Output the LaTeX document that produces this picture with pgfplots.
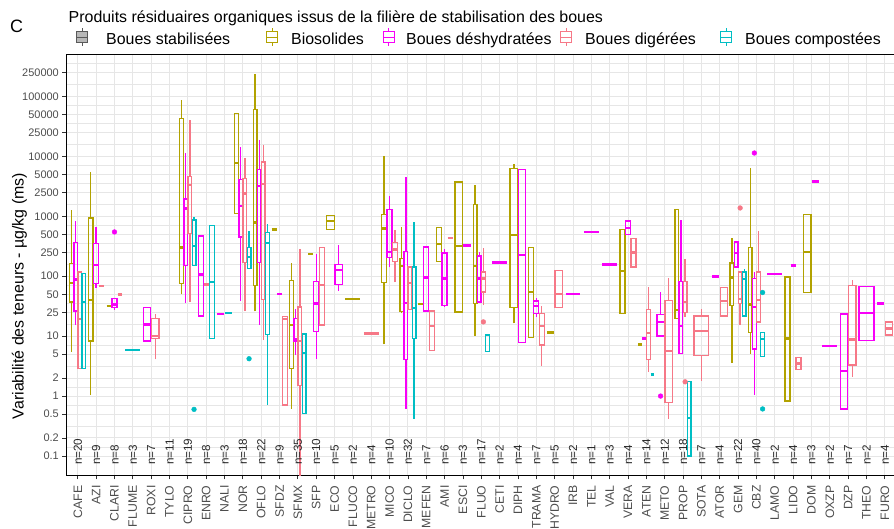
\documentclass[border=0pt]{standalone}
\usepackage{fontspec}
\setmainfont{Liberation Sans}
\usepackage{pgfplots}
\pgfplotsset{compat=1.18}
\definecolor{olv}{RGB}{178,162,0}
\definecolor{mag}{RGB}{248,0,248}
\definecolor{pnk}{RGB}{246,120,135}
\definecolor{cya}{RGB}{0,190,196}
\definecolor{gridc}{RGB}{230,230,230}
\definecolor{txtg}{RGB}{77,77,77}
% #1 colour, #2 category, #3 groups in category, #4 index, #5..#9 = lower whisker, Q1, median, Q3, upper whisker
\newcommand{\BX}[9]{%
  \pgfmathsetmacro\bxc{#2-0.45+0.9/#3*(#4+0.5)}%
  \pgfmathsetmacro\bxa{\bxc-0.405/#3}%
  \pgfmathsetmacro\bxb{\bxc+0.405/#3}%
  \edef\bxdo{%
    \noexpand\addplot[draw=#1, line width=1.3pt, mark=none, line join=miter, line cap=rect] coordinates {(\bxa,#6) (\bxb,#6) (\bxb,#8) (\bxa,#8) (\bxa,#6)};%
    \noexpand\addplot[draw=#1, line width=1.3pt, mark=none] coordinates {(\bxc,#5) (\bxc,#6)};%
    \noexpand\addplot[draw=#1, line width=1.3pt, mark=none] coordinates {(\bxc,#8) (\bxc,#9)};%
    \noexpand\addplot[draw=#1, line width=2.3pt, mark=none] coordinates {(\bxa,#7) (\bxb,#7)};%
  }\bxdo}
\newcommand{\FL}[5]{%
  \pgfmathsetmacro\bxc{#2-0.45+0.9/#3*(#4+0.5)}%
  \pgfmathsetmacro\bxa{\bxc-0.405/#3}%
  \pgfmathsetmacro\bxb{\bxc+0.405/#3}%
  \edef\bxdo{\noexpand\addplot[draw=#1, line width=2.6pt, mark=none] coordinates {(\bxa,#5) (\bxb,#5)};}\bxdo}
\newcommand{\NL}[2]{\node[rotate=90, anchor=west, inner sep=0pt, font=\fontsize{11.7}{12}\selectfont, text=black!85] at (axis cs:#1,0.0708) {n=#2};}
\begin{document}
\begin{tikzpicture}
\begin{axis}[
  at={(66.8bp,54bp)}, anchor=south west, scale only axis,
  width=829bp, height=421bp,
  xmin=-0.6, xmax=44.6, ymode=log, ymin=0.0482, ymax=510500,
  axis line style={black, line width=0.9pt},
  tick align=outside, tick pos=left, major tick length=4.5pt, minor tick length=0pt,
  tick style={black!80, line width=0.8pt},
  xtick={0,...,44},
  xticklabels={CAFE,AZI,CLARI,FLUME,ROXI,TYLO,CIPRO,ENRO,NALI,NOR,OFLO,SFDZ,SFMX,SFP,ECO,FLUCO,METRO,MICO,DICLO,MEFEN,AMI,ESCI,FLUO,CETI,DIPH,TRAMA,HYDRO,IRB,TEL,VAL,VERA,ATEN,METO,PROP,SOTA,ATOR,GEM,CBZ,LAMO,LIDO,DOM,OXZP,DZP,THEO,FURO},
  xticklabel style={rotate=90, anchor=east, font=\fontsize{12.3}{13}\selectfont, text=txtg},
  xticklabel shift=2.5pt,
  ytick={0.1,0.2,0.5,1,2,5,10,25,50,100,250,500,1000,2500,5000,10000,25000,50000,100000,250000},
  yticklabels={0.1,0.2,0.5,1,2,5,10,25,50,100,250,500,1000,2500,5000,10000,25000,50000,100000,250000},
  minor ytick={0.1414,0.3162,0.7071,1.414,3.162,7.071,15.81,35.36,70.71,158.1,353.6,707.1,1581,3536,7071,15811,35355,70711,158114,353553},
  yticklabel style={font=\fontsize{11}{12}\selectfont, text=txtg},
  xmajorgrids, ymajorgrids, yminorgrids,
  major grid style={gridc, line width=1pt},
  minor grid style={gridc, line width=0.55pt},
]
% CAFE
\BX{olv}{0}{4}{0}{5.5}{37}{77}{163}{1260}
\BX{mag}{0}{4}{1}{15.3}{26.4}{88}{364}{836}
\BX{pnk}{0}{4}{2}{2.9}{2.9}{19.2}{118}{118}
\BX{cya}{0}{4}{3}{2.9}{2.9}{37.4}{111}{111}
% AZI
\BX{olv}{1}{3}{0}{1.04}{8.3}{40}{938}{5480}
\BX{mag}{1}{3}{1}{64.7}{75.5}{153}{350}{664}
\FL{pnk}{1}{3}{2}{69}
% CLARI
\FL{olv}{2}{3}{0}{32}
\BX{mag}{2}{3}{1}{27.6}{29.7}{33.7}{42.4}{42.4}
\FL{pnk}{2}{3}{2}{49.5}
% FLUME
\FL{cya}{3}{1}{0}{5.9}
% ROXI
\BX{mag}{4}{2}{0}{8.3}{8.3}{15.6}{29.7}{29.7}
\BX{pnk}{4}{2}{1}{4.1}{9.1}{10.1}{19.7}{23}
% CIPRO
\BX{olv}{6}{4}{0}{50}{76}{300}{43000}{87000}
\BX{mag}{6}{4}{1}{36.4}{150}{1342}{1950}{11300}
\BX{pnk}{6}{4}{2}{37}{514}{3350}{4600}{39800}
\BX{cya}{6}{4}{3}{152}{152}{320}{868}{975}
% ENRO
\BX{mag}{7}{3}{0}{21.8}{21.8}{107}{470}{470}
\FL{pnk}{7}{3}{1}{72.6}
\BX{cya}{7}{3}{2}{9.1}{9.1}{80.5}{708}{708}
% NALI
\FL{mag}{8}{2}{0}{23.6}
\FL{cya}{8}{2}{1}{24.5}
% NOR
\BX{olv}{9}{4}{0}{1108}{1108}{7840}{51400}{51400}
\BX{mag}{9}{4}{1}{38.3}{453}{1468}{4085}{14300}
\BX{pnk}{9}{4}{2}{26.1}{169}{2387}{4240}{9380}
\BX{cya}{9}{4}{3}{134}{134}{210}{300}{562}
% OFLO
\BX{olv}{10}{4}{0}{26}{70.8}{784}{60700}{239000}
\BX{mag}{10}{4}{1}{15.6}{169}{3200}{5990}{18500}
\BX{pnk}{10}{4}{2}{8.6}{40.8}{3500}{8050}{15250}
\BX{cya}{10}{4}{3}{0.71}{10.7}{359}{534}{736}
% SFDZ
\FL{olv}{11}{3}{0}{607}
\FL{mag}{11}{3}{1}{50.8}
\BX{pnk}{11}{3}{2}{0.71}{0.71}{19.2}{21}{21}
% SFMX
\BX{olv}{12}{4}{0}{0.62}{2.9}{15.3}{84.7}{169}
\BX{mag}{12}{4}{1}{4.9}{8.3}{8.9}{19.7}{28.2}
\BX{pnk}{12}{4}{2}{0.03}{1.5}{8.4}{30.8}{282}
\BX{cya}{12}{4}{3}{0.51}{0.51}{5.3}{10.9}{10.9}
% SFP
\FL{olv}{13}{3}{0}{233}
\BX{mag}{13}{3}{1}{4.2}{12.1}{35}{82.5}{239}
\BX{pnk}{13}{3}{2}{15.3}{15.3}{70.8}{300}{300}
% ECO
\BX{olv}{14}{2}{0}{607}{607}{836}{1040}{1040}
\BX{mag}{14}{2}{1}{57.7}{73.6}{126}{156}{329}
% FLUCO, METRO
\FL{olv}{15}{1}{0}{41.4}
\FL{pnk}{16}{1}{0}{11.1}
% MICO
\BX{olv}{17}{3}{0}{7.3}{78.4}{623}{1080}{10000}
\BX{mag}{17}{3}{1}{140}{205}{254}{1308}{2154}
\BX{pnk}{17}{3}{2}{80}{178}{278}{364}{584}
% DICLO
\BX{olv}{18}{4}{0}{23.9}{26.1}{147}{197}{650}
\BX{mag}{18}{4}{1}{0.62}{4.1}{36}{258}{4450}
\BX{pnk}{18}{4}{2}{27.8}{27.8}{77.5}{143}{143}
\BX{cya}{18}{4}{3}{0.42}{9.1}{29.7}{143}{815}
% MEFEN
\FL{olv}{19}{3}{0}{34.6}
\BX{mag}{19}{3}{1}{26.4}{26.4}{95}{308}{308}
\BX{pnk}{19}{3}{2}{5.8}{5.8}{14.9}{26.4}{26.4}
% AMI
\BX{olv}{20}{3}{0}{178}{178}{341}{647}{647}
\BX{mag}{20}{3}{1}{30.8}{32.9}{91.5}{245}{282}
\FL{pnk}{20}{3}{2}{435}
% ESCI
\BX{olv}{21}{2}{0}{25.4}{25.4}{320}{3735}{3735}
\FL{mag}{21}{2}{1}{329}
% FLUO
\BX{olv}{22}{4}{0}{10.1}{35}{147}{1565}{3290}
\BX{mag}{22}{4}{1}{37.3}{37.3}{91.5}{218}{250}
\BX{pnk}{22}{4}{2}{32.9}{54.8}{91.5}{118}{297}
\BX{cya}{22}{4}{3}{5.5}{5.5}{10.4}{10.4}{10.4}
% CETI
\FL{mag}{23}{1}{0}{169}
% DIPH
\BX{olv}{24}{2}{0}{16.3}{30}{482}{6225}{7550}
\BX{mag}{24}{2}{1}{7.8}{7.8}{224}{5990}{5990}
% TRAMA
\BX{olv}{25}{3}{0}{9.5}{9.5}{54.8}{300}{300}
\BX{mag}{25}{3}{1}{21}{23.9}{32.1}{38.8}{44}
\BX{pnk}{25}{3}{2}{3.2}{7.1}{14.9}{23.9}{32}
% HYDRO
\FL{olv}{26}{2}{0}{11.5}
\BX{pnk}{26}{2}{1}{30}{30}{50.8}{126}{126}
% IRB TEL VAL
\FL{mag}{27}{1}{0}{50.8}
\FL{mag}{28}{1}{0}{548}
\FL{mag}{29}{1}{0}{156}
% VERA
\BX{olv}{30}{3}{0}{23.9}{23.9}{123}{607}{607}
\BX{mag}{30}{3}{1}{501}{501}{640}{836}{836}
\BX{pnk}{30}{3}{2}{143}{143}{248}{425}{425}
% ATEN
\FL{olv}{31}{4}{0}{7.3}
\FL{mag}{31}{4}{1}{9.1}
\BX{pnk}{31}{4}{2}{2.5}{4.1}{11.4}{27.8}{66.4}
\FL{cya}{31}{4}{3}{2.3}
% METO
\BX{mag}{32}{2}{0}{10.1}{10.1}{17.3}{23}{54.8}
\BX{pnk}{32}{2}{1}{0.42}{0.78}{5.7}{39.8}{93.8}
% PROP
\BX{olv}{33}{4}{0}{19.7}{19.7}{27.1}{1292}{1292}
\BX{mag}{33}{4}{1}{5.1}{5.1}{14.9}{82.5}{858}
\BX{pnk}{33}{4}{2}{21}{24.8}{37.3}{82.5}{197}
\BX{cya}{33}{4}{3}{0.1}{0.1}{0.435}{1.73}{1.73}
% SOTA
\BX{pnk}{34}{1}{0}{1.78}{4.8}{12.1}{21.8}{28.9}
% ATOR
\FL{mag}{35}{2}{0}{98.7}
\BX{pnk}{35}{2}{1}{21.8}{21.8}{38.8}{64.7}{64.7}
% GEM
\BX{olv}{36}{4}{0}{3.6}{32.9}{95}{167}{435}
\BX{mag}{36}{4}{1}{143}{143}{245}{373}{373}
\BX{pnk}{36}{4}{2}{15.3}{35}{41.4}{118}{118}
\BX{cya}{36}{4}{3}{21.8}{21.8}{89}{118}{134}
% CBZ
\BX{olv}{37}{4}{0}{5.1}{11.5}{33.7}{300}{6390}
\BX{mag}{37}{4}{1}{1.04}{6.1}{30.8}{91.5}{118}
\BX{pnk}{37}{4}{2}{17.3}{17.3}{39.8}{118}{562}
\BX{cya}{37}{4}{3}{4.6}{4.6}{8.9}{11.4}{11.4}
% LAMO
\FL{mag}{38}{1}{0}{109}
% LIDO
\BX{olv}{39}{3}{0}{0.83}{0.83}{9.1}{97.5}{97.5}
\FL{mag}{39}{3}{1}{151}
\BX{pnk}{39}{3}{2}{2.8}{2.8}{3.5}{4.4}{4.4}
% DOM
\BX{olv}{40}{2}{0}{53.5}{53.5}{254}{1080}{1080}
\FL{mag}{40}{2}{1}{3833}
% OXZP
\FL{mag}{41}{1}{0}{6.9}
% DZP
\BX{mag}{42}{2}{0}{0.61}{0.61}{2.6}{23.5}{23.5}
\BX{pnk}{42}{2}{1}{2.1}{3.3}{8.8}{70}{85}
% THEO
\BX{mag}{43}{1}{0}{8.4}{8.4}{24.5}{67}{67}
% FURO
\FL{mag}{44}{2}{0}{35}
\BX{pnk}{44}{2}{1}{10.4}{10.4}{13.4}{17.3}{17.3}
% outliers
\addplot[only marks, mark=*, mark size=2.4pt, color=mag] coordinates {(2,548) (31.775,1.0) (36.8875,11370)};
\addplot[only marks, mark=*, mark size=2.4pt, color=pnk] coordinates {(22.1125,17.3) (33.1125,1.73) (36.1125,1377)};
\addplot[only marks, mark=*, mark size=2.4pt, color=cya] coordinates {(6.3375,0.6) (9.3375,4.2) (37.3375,53.5) (37.3375,0.61)};
% counts
\NL{0}{20}\NL{1}{9}\NL{2}{8}\NL{3}{3}\NL{4}{7}\NL{5}{11}\NL{6}{19}\NL{7}{8}\NL{8}{3}\NL{9}{18}
\NL{10}{22}\NL{11}{9}\NL{12}{35}\NL{13}{10}\NL{14}{5}\NL{15}{2}\NL{16}{4}\NL{17}{10}\NL{18}{32}\NL{19}{7}
\NL{20}{6}\NL{21}{3}\NL{22}{17}\NL{23}{2}\NL{24}{4}\NL{25}{7}\NL{26}{5}\NL{27}{2}\NL{28}{1}\NL{29}{3}
\NL{30}{4}\NL{31}{14}\NL{32}{12}\NL{33}{18}\NL{34}{7}\NL{35}{4}\NL{36}{22}\NL{37}{40}\NL{38}{2}\NL{39}{4}
\NL{40}{3}\NL{41}{2}\NL{42}{7}\NL{43}{2}\NL{44}{4}
\end{axis}
\begin{scope}[x=1bp,y=1bp]
% titles
\node[font=\fontsize{18}{20}\selectfont, anchor=base west, inner sep=0pt] at (10,496) {C};
\node[font=\fontsize{16}{18}\selectfont, anchor=base west, inner sep=0pt] at (68.5,506.5) {Produits résiduaires organiques issus de la filière de stabilisation des boues};
\node[font=\fontsize{16}{18}\selectfont, rotate=90, inner sep=0pt] at (19.5,233) {Variabilité des teneurs - µg/kg (ms)};
% legend
\foreach \lx/\dc/\fc/\tx/\lab in {82.3/black!65/black!28/106/{Boues stabilisées}, 272.4/olv/white/291/{Biosolides}, 388.7/mag/white/406/{Boues déshydratées}, 566/pnk/white/585/{Boues digérées}, 726/cya/white/745/{Boues compostées}}{
  \draw[draw=\dc, fill=\fc, line width=1pt] (\lx-5.5,486.2) rectangle (\lx+5.5,497.2);
  \draw[draw=\dc, line width=1pt] (\lx-5.5,491.7) -- (\lx+5.5,491.7);
  \draw[draw=\dc, line width=1pt] (\lx,497.2) -- (\lx,500.5);
  \draw[draw=\dc, line width=1pt] (\lx,486.2) -- (\lx,483);
  \node[font=\fontsize{16}{18}\selectfont, anchor=base west, inner sep=0pt] at (\tx,484.7) {\lab};
}
\end{scope}
\pgfresetboundingbox
\useasboundingbox (0,0) rectangle (894bp,529bp);
\end{tikzpicture}
\end{document}
